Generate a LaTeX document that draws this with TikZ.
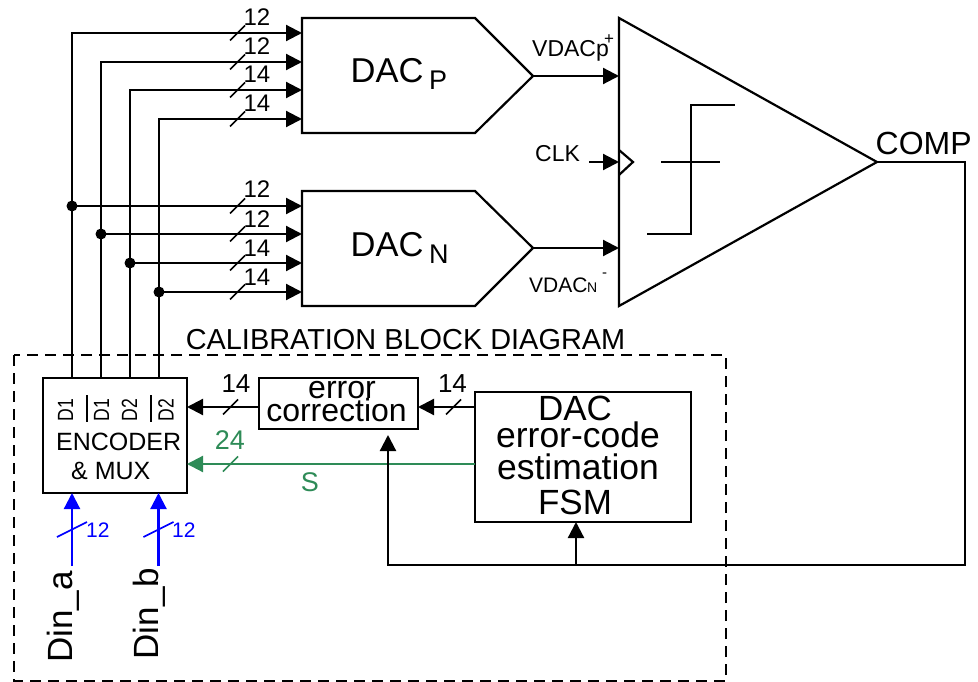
\documentclass[tikz,border=0pt]{standalone}
\usepackage{fontspec}
\setmainfont{Liberation Sans}
\usetikzlibrary{arrows.meta}
\newcommand{\fsz}[1]{\fontsize{#1}{#1}\selectfont}
\tikzset{
  x=1pt,y=-1pt,
  wire/.style={line width=2.2pt,line join=miter},
  arr/.style={wire,-{Triangle[length=16pt,width=16pt]}},
  box/.style={draw,line width=2.2pt,rectangle,inner sep=0pt,minimum width=#1},
  lab/.style={inner sep=0pt,anchor=base west},
  clab/.style={inner sep=0pt,anchor=base},
  tick/.style={line width=1.7pt},
  dot/.style={circle,fill=black,inner sep=0pt,minimum size=11pt},
}
\definecolor{sgreen}{RGB}{46,139,87}
\definecolor{pureblue}{RGB}{0,0,255}
\newcommand{\tickmark}[3][black]{\draw[tick,#1] (#2-7.5,#3+7.5) -- (#2+7.5,#3-7.5);}
\begin{document}
\begin{tikzpicture}
\useasboundingbox (0,0) rectangle (978,682);
% dashed frame
\draw[line width=2.2pt,dash pattern=on 11pt off 7pt] (14,355) rectangle (726,681);
\node[clab] (title) at (405.5,349) {\fsz{28.9}CALIBRATION BLOCK DIAGRAM};
% blocks
\node[box=144pt,minimum height=115pt] (enc) at (115,435.5) {};
\node[box=159pt,minimum height=51pt] (err) at (338.5,403.5) {};
\node[box=216pt,minimum height=130pt] (fsm) at (583,457) {};
\draw[line width=2.2pt,line join=miter] (302,18) -- (475,18) -- (533,76) -- (475,133) -- (302,133) -- cycle;
\draw[line width=2.2pt,line join=miter] (302,191) -- (475,191) -- (533,248) -- (475,306) -- (302,306) -- cycle;
\draw[line width=2.2pt,line join=miter] (619,18) -- (877,162) -- (619,306) -- cycle;
\coordinate (dacpout) at (533,76);
\coordinate (dacnout) at (533,248);
\coordinate (cmpout) at (877,162);
\coordinate (cmpp) at (619,76);
\coordinate (cmpn) at (619,248);
\coordinate (cmpc) at (619,162);
\coordinate (clkin) at (589,162);
% clock mark & step symbol
\draw[line width=2.2pt] (619,150) -- (633,162) -- (619,175);
\draw[line width=2.2pt,line join=miter] (647,234) -- (691,234) -- (691,105) -- (735,105);
\draw[line width=2.2pt] (661,162) -- (720,162);
% DAC outputs
\draw[arr] (dacpout) -- (cmpp);
\draw[arr] (dacnout) -- (cmpn);
\draw[arr] (clkin) -- (cmpc);
% buses
\foreach \n/\x/\yp/\yn in {a/72/33/206,b/101/62/234,c/130/90/263,d/159/119/292}{
  \coordinate (top\n) at (\x,378);
  \coordinate (pp\n) at (302,\yp);
  \coordinate (pn\n) at (302,\yn);
  \coordinate (cp\n) at (\x,\yp);
  \node[dot] (j\n) at (\x,\yn) {};
  \draw[arr] (top\n) -- (cp\n) -- (pp\n);
  \draw[arr] (j\n.center) -- (pn\n);
  \tickmark{237.5}{\yp}
  \tickmark{237.5}{\yn}
}
\foreach \t/\yy in {12/26,12/55,14/83,14/112,12/198,12/227,14/256,14/285}{
  \node[clab] at (257,\yy) {\fsz{24}\t};
}
% calibration connections
\coordinate (errin) at (418,407);
\coordinate (errout) at (259,407);
\coordinate (encin) at (187,407);
\coordinate (fsmout) at (475,407);
\draw[arr] (fsmout) -- (errin);
\draw[arr] (errout) -- (encin);
\tickmark{230.5}{407}
\tickmark{453.5}{407}
\node[clab] at (236,392) {\fsz{26}14};
\node[clab] at (452.5,392) {\fsz{26}14};
\coordinate (fsmg) at (475,464);
\coordinate (encg) at (187,464);
\draw[arr,sgreen] (fsmg) -- (encg);
\tickmark[sgreen]{230.5}{464}
\node[clab,text=sgreen] at (230,449) {\fsz{27}24};
\node[clab,text=sgreen] at (310,491) {\fsz{27}S};
% comparator feedback
\coordinate (cr) at (965,162);
\coordinate (crb) at (965,565);
\coordinate (cl) at (388,565);
\coordinate (errb) at (388,435);
\coordinate (fb) at (576,565);
\coordinate (fsmb) at (576,522);
\draw[arr] (cmpout) -- (cr) -- (crb) -- (cl) -- (errb);
\draw[arr] (fb) -- (fsmb);
% blue inputs
\coordinate (ia) at (72,566);
\coordinate (ib) at (158.5,566);
\coordinate (ea) at (72,493);
\coordinate (eb) at (158.5,493);
\draw[arr,pureblue] (ia) -- (ea);
\draw[arr,pureblue] (ib) -- (eb);
\draw[tick,pureblue] (57,537) -- (87,522);
\draw[tick,pureblue] (143.5,537) -- (173.5,522);
\node[lab,text=pureblue] at (86,537) {\fsz{21}12};
\node[lab,text=pureblue] at (172,537) {\fsz{21}12};
\node[lab,rotate=90] at (72,663) {\fsz{35}Din\_a};
\node[lab,rotate=90] at (158,659.5) {\fsz{35}Din\_b};
% block text
\node[lab] at (56,450) {\fsz{25}ENCODER};
\node[lab] at (71,479) {\fsz{25}\&\ MUX};
\foreach \x/\t in {73/D1,109/D1,137/D2,173.5/D2}{
  \node[lab,rotate=90,xscale=0.8] at (\x,421.5) {\fsz{22}\t};
}
\draw[line width=1.7pt] (87,395) -- (87,422);
\draw[line width=1.7pt] (151,395) -- (151,422);
\node[clab] at (342,398) {\fsz{32}error};
\node[clab] at (336.5,421) {\fsz{32}correction};
\node[clab] at (575,420) {\fsz{35}DAC};
\node[clab] at (578,447) {\fsz{35.5}error-code};
\node[clab] at (578,479) {\fsz{35.5}estimation};
\node[clab] at (575,514) {\fsz{35}FSM};
\node[lab] at (350.5,83) {\fsz{34.5}DAC};
\node[lab] at (429,90) {\fsz{27}P};
\node[lab] at (350.5,256) {\fsz{34.5}DAC};
\node[lab] at (429,263) {\fsz{27}N};
\node[lab] at (532,57) {\fsz{23}VDACp};
\node[lab] at (604,45) {\fsz{17}+};
\node[lab] at (535,162) {\fsz{23}CLK};
\node[lab] at (529,292) {\fsz{21}VDAC};
\node[lab] at (587,292) {\fsz{14}N};
\node[lab] at (602,277) {\fsz{15}-};
\node[lab] at (875.5,155) {\fsz{32}COMP};
\end{tikzpicture}
\end{document}
